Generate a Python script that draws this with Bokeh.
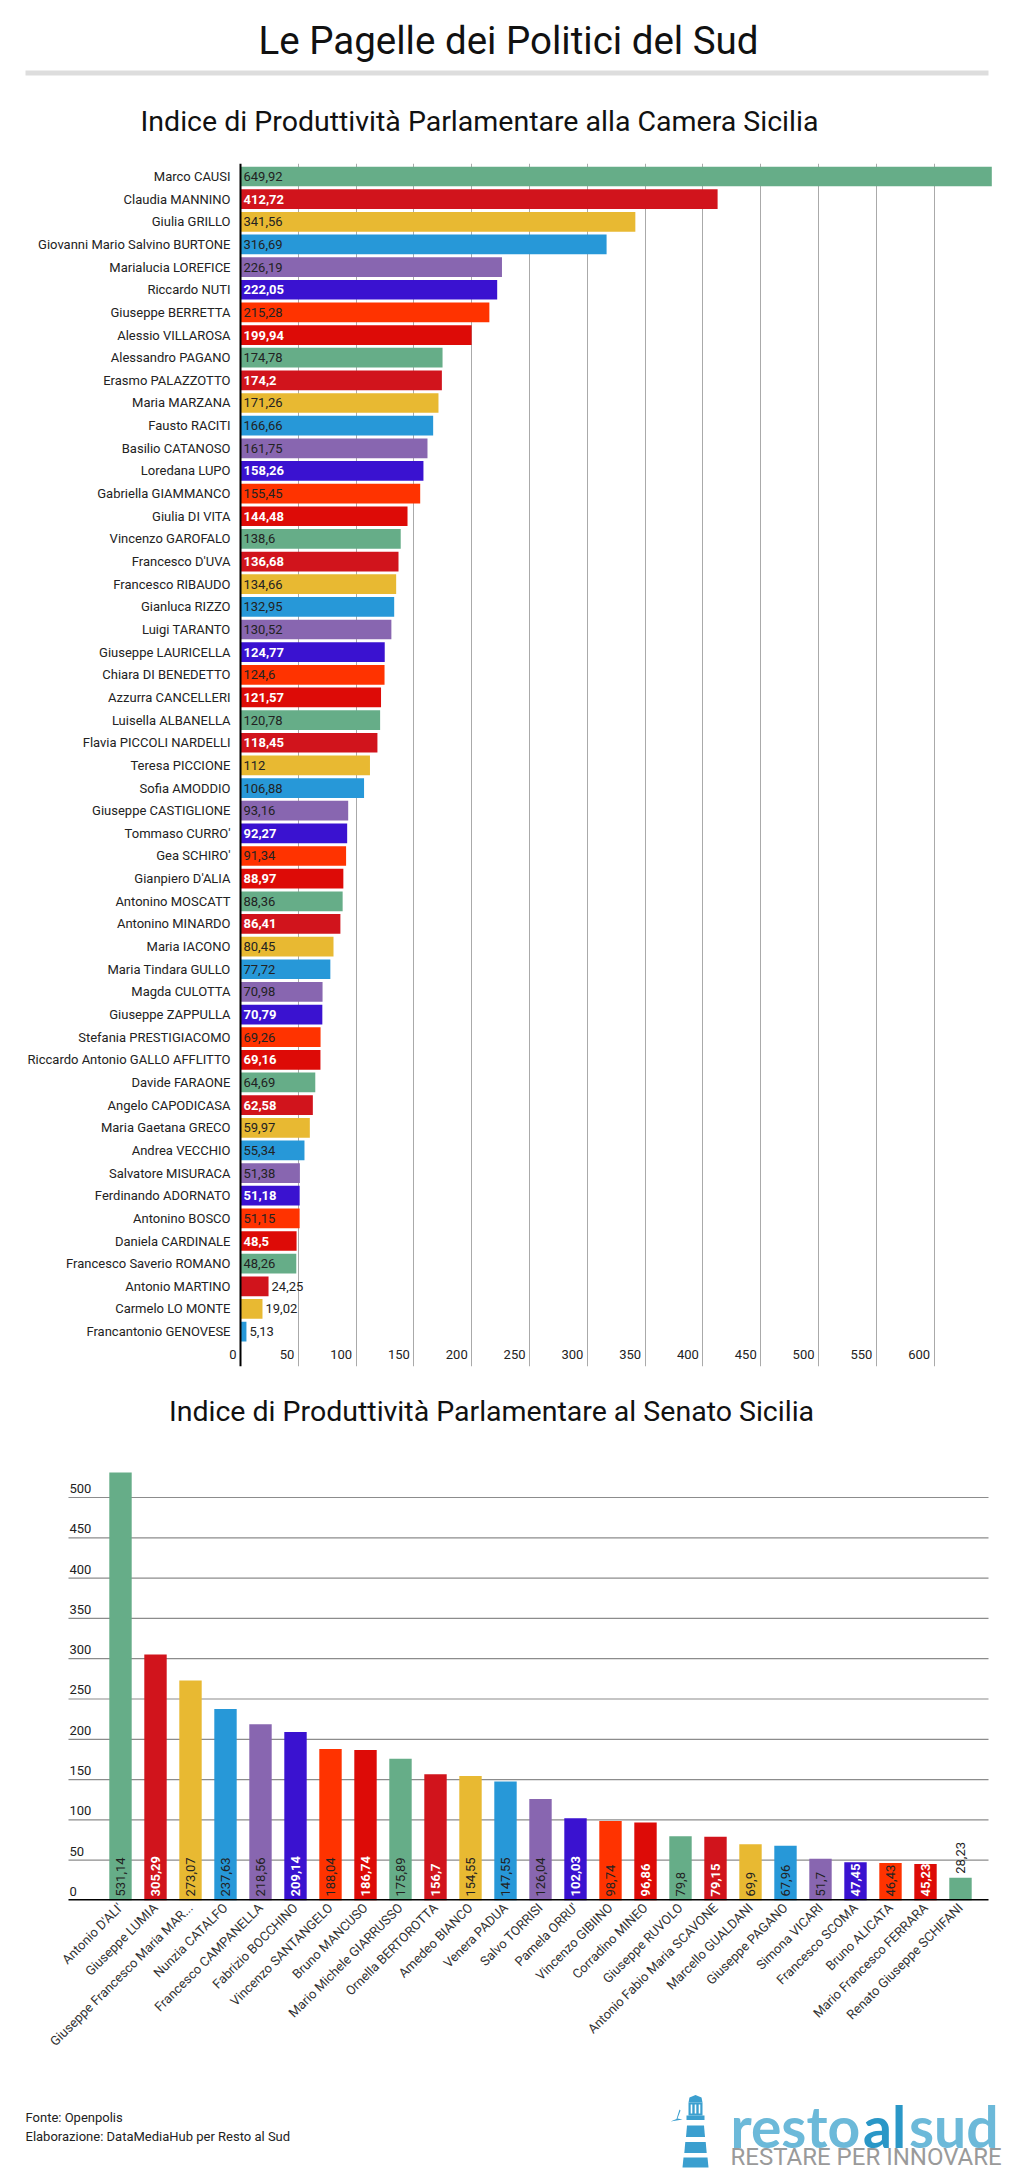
import math
from bokeh.plotting import figure
from bokeh.models import (Range1d, FixedTicker, Label, BoxAnnotation, PolyAnnotation,
                          Span, ColumnDataSource, Grid, LinearAxis)
from bokeh.layouts import column
from bokeh.embed import file_html
from bokeh.resources import INLINE
from bokeh.core.properties import value

FONT = "Roboto"

# ---------------- data ----------------
camera_names = [
    "Marco CAUSI", "Claudia MANNINO", "Giulia GRILLO", "Giovanni Mario Salvino BURTONE",
    "Marialucia LOREFICE", "Riccardo NUTI", "Giuseppe BERRETTA", "Alessio VILLAROSA",
    "Alessandro PAGANO", "Erasmo PALAZZOTTO", "Maria MARZANA", "Fausto RACITI",
    "Basilio CATANOSO", "Loredana LUPO", "Gabriella GIAMMANCO", "Giulia DI VITA",
    "Vincenzo GAROFALO", "Francesco D'UVA", "Francesco RIBAUDO", "Gianluca RIZZO",
    "Luigi TARANTO", "Giuseppe LAURICELLA", "Chiara DI BENEDETTO", "Azzurra CANCELLERI",
    "Luisella ALBANELLA", "Flavia PICCOLI NARDELLI", "Teresa PICCIONE", "Sofia AMODDIO",
    "Giuseppe CASTIGLIONE", "Tommaso CURRO'", "Gea SCHIRO'", "Gianpiero D'ALIA",
    "Antonino MOSCATT", "Antonino MINARDO", "Maria IACONO", "Maria Tindara GULLO",
    "Magda CULOTTA", "Giuseppe ZAPPULLA", "Stefania PRESTIGIACOMO",
    "Riccardo Antonio GALLO AFFLITTO", "Davide FARAONE", "Angelo CAPODICASA",
    "Maria Gaetana GRECO", "Andrea VECCHIO", "Salvatore MISURACA", "Ferdinando ADORNATO",
    "Antonino BOSCO", "Daniela CARDINALE", "Francesco Saverio ROMANO", "Antonio MARTINO",
    "Carmelo LO MONTE", "Francantonio GENOVESE",
]
camera_values = [
    649.92, 412.72, 341.56, 316.69, 226.19, 222.05, 215.28, 199.94, 174.78, 174.2,
    171.26, 166.66, 161.75, 158.26, 155.45, 144.48, 138.6, 136.68, 134.66, 132.95,
    130.52, 124.77, 124.6, 121.57, 120.78, 118.45, 112, 106.88, 93.16, 92.27,
    91.34, 88.97, 88.36, 86.41, 80.45, 77.72, 70.98, 70.79, 69.26, 69.16,
    64.69, 62.58, 59.97, 55.34, 51.38, 51.18, 51.15, 48.5, 48.26, 24.25,
    19.02, 5.13,
]
camera_x_ticks = [0, 50, 100, 150, 200, 250, 300, 350, 400, 450, 500, 550, 600]

senate_names = [
    "Antonio D'ALI'", "Giuseppe LUMIA", "Giuseppe Francesco Maria MAR...", "Nunzia CATALFO",
    "Francesco CAMPANELLA", "Fabrizio BOCCHINO", "Vincenzo SANTANGELO", "Bruno MANCUSO",
    "Mario Michele GIARRUSSO", "Ornella BERTOROTTA", "Amedeo BIANCO", "Venera PADUA",
    "Salvo TORRISI", "Pamela ORRU'", "Vincenzo GIBIINO", "Corradino MINEO",
    "Giuseppe RUVOLO", "Antonio Fabio Maria SCAVONE", "Marcello GUALDANI", "Giuseppe PAGANO",
    "Simona VICARI", "Francesco SCOMA", "Bruno ALICATA", "Mario Francesco FERRARA",
    "Renato Giuseppe SCHIFANI",
]
senate_values = [
    531.14, 305.29, 273.07, 237.63, 218.56, 209.14, 188.04, 186.74, 175.89, 156.7,
    154.55, 147.55, 126.04, 102.03, 98.74, 96.86, 79.8, 79.15, 69.9, 67.96,
    51.7, 47.45, 46.43, 45.23, 28.23,
]
senate_y_ticks = [0, 50, 100, 150, 200, 250, 300, 350, 400, 450, 500]

# ---------------- style ----------------
palette = ["#66ad88", "#d1141c", "#e8b932", "#2798d8", "#8866b0", "#3a12d0", "#ff3300", "#dd0b07"]
white_label = [False, True, False, False, False, True, False, True]
DARK = "#222222"
W = 1013


def fmt(v):
    return f"{v:g}".replace(".", ",")


def base_fig(height, xr, yr):
    p = figure(width=W, height=height, output_backend="svg", toolbar_location=None,
               x_range=xr, y_range=yr, x_axis_type=None, y_axis_type=None,
               min_border_left=0, min_border_right=0)
    p.outline_line_color = None
    p.background_fill_color = "white"
    p.border_fill_color = "white"
    return p


def blank(height):
    p = base_fig(height, Range1d(0, W), Range1d(height, 0))
    p.min_border_top = 0
    p.min_border_bottom = 0
    return p


def label(p, x, y, text, size, color="#111111", align="left", font=FONT, style="normal"):
    p.add_layout(Label(x=x, y=y, text=text, text_font=font, text_font_size=size,
                       text_color=color, text_align=align, text_baseline="middle",
                       text_font_style=style))


# ---------------- header ----------------
head = blank(150)
label(head, 508, 40, "Le Pagelle dei Politici del Sud", "38.5px", align="center")
head.add_layout(BoxAnnotation(left=25, right=988, top=70, bottom=75, fill_color="#dddddd",
                              fill_alpha=1, line_color=None))
label(head, 479, 121, "Indice di Produttività Parlamentare alla Camera Sicilia", "28.5px",
      align="center")

# ---------------- camera chart ----------------
n = len(camera_names)
CAM_PX = 1.156          # pixels per unit
CAM_X0 = 240            # pixel position of value 0 inside the figure
cam = base_fig(1235, Range1d(-CAM_X0 / CAM_PX, (W - CAM_X0) / CAM_PX),
               Range1d(52.54, -0.574))
cam.min_border_top = 13
cam.min_border_bottom = 19
cam.add_layout(Grid(dimension=0, ticker=FixedTicker(ticks=camera_x_ticks[1:]),
                    grid_line_color="#aaaaaa", grid_line_width=1))

cam_src = ColumnDataSource(dict(
    y=list(range(n)), v=camera_values, name=camera_names,
    color=[palette[i % 8] for i in range(n)],
))
cam.hbar(y="y", left=0, right="v", height=0.87, fill_color="color", line_color=None,
         source=cam_src)
cam.add_layout(Span(location=0, dimension="height", line_color="black", line_width=2))

# category labels (names)
cam.text(x=0, y="y", text="name", source=cam_src, x_offset=-10, text_align="right",
         text_baseline="middle", text_font=value(FONT), text_font_size="13px",
         text_color=DARK)

cam_thr = 40
dark_lab = dict(x=[], y=[], t=[])
white_lab = dict(x=[], y=[], t=[])
for i, v in enumerate(camera_values):
    inside = v >= cam_thr
    d = white_lab if (inside and white_label[i % 8]) else dark_lab
    d["x"].append(0 if inside else v)
    d["y"].append(i)
    d["t"].append(fmt(v))
cam.text(x="x", y="y", text="t", source=ColumnDataSource(dark_lab), x_offset=3,
         text_align="left", text_baseline="middle", text_font=value(FONT),
         text_font_size="13px", text_color=DARK)
cam.text(x="x", y="y", text="t", source=ColumnDataSource(white_lab), x_offset=3,
         text_align="left", text_baseline="middle", text_font=value(FONT),
         text_font_size="13px", text_color="white", text_font_style="bold")
# value-axis tick labels
cam.text(x=camera_x_ticks, y=[n] * len(camera_x_ticks), text=[str(t) for t in camera_x_ticks],
         x_offset=-4, text_align="right", text_baseline="middle", text_font=value(FONT),
         text_font_size="13px", text_color=DARK)

# ---------------- senate subtitle ----------------
sub2 = blank(55)
label(sub2, 491, 25.5, "Indice di Produttività Parlamentare al Senato Sicilia", "28.5px",
      align="center")

# ---------------- senate chart ----------------
m = len(senate_names)
SEN_PX = 35.0           # pixels per bar slot
SEN_X0 = 120            # pixel position of the first bar centre
GRID_L, GRID_R = -1.486, 24.8   # horizontal extent of the gridlines (bar-slot units)
sen = base_fig(635, Range1d(-SEN_X0 / SEN_PX, (W - SEN_X0) / SEN_PX), Range1d(0, 552.1))
sen.min_border_top = 15
sen.min_border_bottom = 175

xa = LinearAxis(ticker=FixedTicker(ticks=list(range(m))))
xa.major_label_overrides = {i: nm for i, nm in enumerate(senate_names)}
xa.major_label_orientation = math.pi / 4
xa.axis_line_color = None
xa.major_tick_line_color = None
xa.minor_tick_line_color = None
xa.major_tick_out = 0
xa.major_tick_in = 0
xa.major_label_standoff = 5
xa.major_label_text_font = FONT
xa.major_label_text_font_size = "13px"
xa.major_label_text_color = "#333333"
sen.add_layout(xa, "below")

grid_ticks = senate_y_ticks[1:]
sen.segment(x0=[GRID_L] * len(grid_ticks), x1=[GRID_R] * len(grid_ticks),
            y0=grid_ticks, y1=grid_ticks, line_color="#8c8c8c", line_width=1.2)

sen_src = ColumnDataSource(dict(
    x=list(range(m)), v=senate_values,
    color=[palette[i % 8] for i in range(m)],
))
sen.vbar(x="x", bottom=0, top="v", width=0.64, fill_color="color", line_color=None,
         source=sen_src)
sen.segment(x0=[GRID_L], x1=[GRID_R], y0=[0], y1=[0], line_color="black", line_width=3)

sen_thr = 40
sd = dict(x=[], y=[], t=[])
sw = dict(x=[], y=[], t=[])
for i, v in enumerate(senate_values):
    inside = v >= sen_thr
    d = sw if (inside and white_label[i % 8]) else sd
    d["x"].append(i)
    d["y"].append(0 if inside else v)
    d["t"].append(fmt(v))
sen.text(x="x", y="y", text="t", source=ColumnDataSource(sd), angle=math.pi / 2,
         y_offset=-4, text_align="left", text_baseline="middle", text_font=value(FONT),
         text_font_size="13px", text_color=DARK)
sen.text(x="x", y="y", text="t", source=ColumnDataSource(sw), angle=math.pi / 2,
         y_offset=-4, text_align="left", text_baseline="middle", text_font=value(FONT),
         text_font_size="13px", text_color="white", text_font_style="bold")
sen.text(x=[GRID_L] * len(senate_y_ticks), y=senate_y_ticks,
         text=[str(t) for t in senate_y_ticks],
         x_offset=1, y_offset=-9, text_align="left", text_baseline="middle",
         text_font=value(FONT), text_font_size="13px", text_color=DARK)

# ---------------- footer ----------------
foot = blank(102)
label(foot, 25, 42, "Fonte: Openpolis", "13px", DARK)
label(foot, 25, 61, "Elaborazione: DataMediaHub per Resto al Sud", "13px", DARK)
LOGO_L = "#6cb9d9"
LOGO_D = "#2a97c7"
LH = "#3b9fcf"
label(foot, 730, 50, "resto", "57px", LOGO_L, font="Lato", style="bold")
label(foot, 884, 50, "al", "57px", LOGO_D, align="center", font="Lato", style="bold")
label(foot, 998, 50, "sud", "57px", LOGO_L, align="right", font="Lato", style="bold")
label(foot, 730, 81, "RESTARE PER INNOVARE", "24px", "#9a9a9a")
# lighthouse
cx = 695


def poly(xs, ys, color=LH):
    foot.add_layout(PolyAnnotation(xs=xs, ys=ys, fill_color=color, fill_alpha=1,
                                   line_color=None))


poly([cx - 7, cx - 6, cx, cx + 6, cx + 7], [27, 22, 19.5, 22, 27])
poly([cx - 7, cx + 7, cx + 7, cx - 7], [27, 27, 40, 40])
for dx in (-4, 0, 4):
    poly([cx + dx - 0.8, cx + dx + 0.8, cx + dx + 0.8, cx + dx - 0.8], [29, 29, 38, 38], "white")
poly([cx - 9, cx + 9, cx + 9, cx - 9], [40, 40, 44.5, 44.5])
for (y0, y1, h0, h1) in ((50, 61.5, 8.5, 9.5), (66.5, 77.5, 10.2, 11.2), (82, 92, 12, 13)):
    poly([cx - h0, cx + h0, cx + h1, cx - h1], [y0, y0, y1, y1])
poly([cx - 25, cx - 19, cx - 16, cx - 15, cx - 18, cx - 13, cx - 19],
     [46, 43.5, 34, 35, 43, 44, 45])

layout = column(head, cam, sub2, sen, foot, spacing=0)
open("out.html", "w").write(file_html(layout, INLINE))
